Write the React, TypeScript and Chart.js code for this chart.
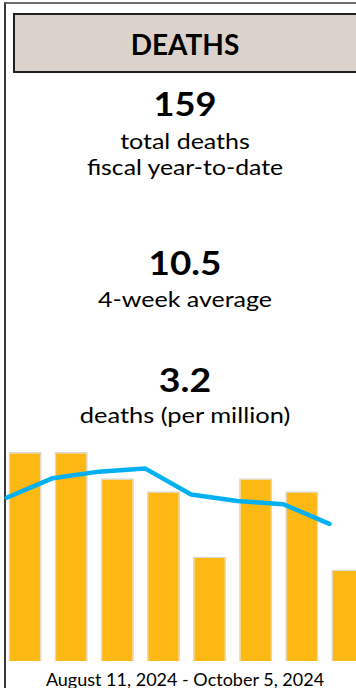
import React, { useEffect, useRef } from "react";
import { Chart, registerables } from "chart.js";

Chart.register(...registerables);

const weeks = ["Aug 11", "Aug 18", "Aug 25", "Sep 1", "Sep 8", "Sep 15", "Sep 22", "Sep 29"];
const weeklyDeaths = [16, 16, 14, 13, 8, 14, 13, 7];
const fourWeekAvg = [12.5, 14.0, 14.5, 14.75, 12.75, 12.25, 12.0, 10.5];

const title = "DEATHS";
const totalValue = "159";
const totalLabel1 = "total deaths";
const totalLabel2 = "fiscal year-to-date";
const avgValue = "10.5";
const avgLabel = "4-week average";
const rateValue = "3.2";
const rateLabel = "deaths (per million)";
const dateRange = "August 11, 2024 - October 5, 2024";

const FONT = "Lato, 'Open Sans', sans-serif";

function Txt(props: { top: number; size: number; sx?: number; bold?: boolean; children: React.ReactNode }) {
  return (
    <div
      style={{
        position: "absolute",
        left: 4,
        width: 362,
        top: props.top,
        fontSize: props.size,
        lineHeight: 1,
        fontWeight: props.bold ? 700 : 400,
        textAlign: "center",
        color: "#000",
        fontFamily: FONT,
        whiteSpace: "nowrap",
        transform: `scaleX(${props.sx ?? 1})`,
        transformOrigin: "center",
      }}
    >
      {props.children}
    </div>
  );
}

export default function App() {
  const ref = useRef<HTMLCanvasElement | null>(null);

  useEffect(() => {
    if (!ref.current) return;
    const chart = new Chart(ref.current, {
      type: "bar",
      data: {
        labels: weeks,
        datasets: [
          {
            type: "line",
            label: "4-week average",
            data: fourWeekAvg.map((v, i) => ({ x: i, y: v })),
            xAxisID: "x2",
            borderColor: "#00B0F0",
            borderWidth: 4.5,
            pointRadius: 0,
            tension: 0,
            borderCapStyle: "round",
            borderJoinStyle: "round",
            order: 0,
          } as any,
          {
            type: "bar",
            label: "Deaths",
            data: weeklyDeaths,
            xAxisID: "x",
            backgroundColor: "#FDB813",
            borderColor: "#D9D9D9",
            borderWidth: 1.5,
            grouped: false,
            barPercentage: 0.72,
            categoryPercentage: 1,
            order: 1,
          } as any,
        ],
      },
      options: {
        animation: false,
        responsive: false,
        devicePixelRatio: 1,
        layout: { padding: 0 },
        plugins: { legend: { display: false }, tooltip: { enabled: false } },
        scales: {
          x: { type: "category", display: false, offset: true },
          x2: { type: "linear", display: false, offset: false, bounds: "data", min: -0.1, max: 7.9 },
          y: { display: false, min: 0, max: 17 },
        },
      },
    });
    return () => chart.destroy();
  }, []);

  return (
    <div
      style={{
        position: "fixed",
        left: 0,
        top: 0,
        width: 356,
        height: 688,
        overflow: "hidden",
        background: "#fff",
      }}
    >
      <div
        style={{
          position: "absolute",
          left: 4,
          top: 2,
          width: 400,
          height: 720,
          borderTop: "2px solid #6b6b6b",
          borderLeft: "2px solid #3a3a3a",
        }}
      />
      <div
        style={{
          position: "absolute",
          left: 13,
          top: 13,
          width: 400,
          height: 56,
          background: "#DBD3CB",
          border: "2px solid #1f1f1f",
        }}
      />
      <Txt top={30} size={28} bold>{title}</Txt>
      <Txt top={88} size={32} sx={1.13} bold>{totalValue}</Txt>
      <Txt top={130} size={21} sx={1.19}>{totalLabel1}</Txt>
      <Txt top={156} size={21} sx={1.18}>{totalLabel2}</Txt>
      <Txt top={247} size={32} sx={1.15} bold>{avgValue}</Txt>
      <Txt top={288} size={21} sx={1.19}>{avgLabel}</Txt>
      <Txt top={364} size={32} sx={1.17} bold>{rateValue}</Txt>
      <Txt top={404} size={21} sx={1.21}>{rateLabel}</Txt>
      <Txt top={670} size={18}>{dateRange}</Txt>
      <canvas
        ref={ref}
        width={369}
        height={222}
        style={{ position: "absolute", left: 2, top: 439, width: 369, height: 222 }}
      />
    </div>
  );
}
